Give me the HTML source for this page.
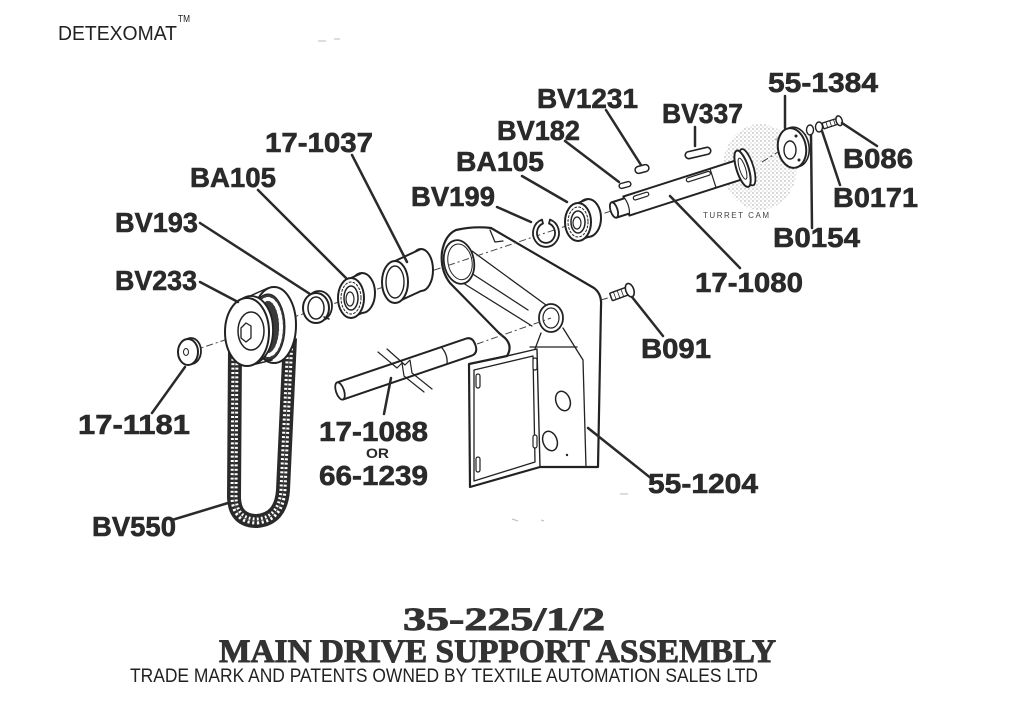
<!DOCTYPE html>
<html><head><meta charset="utf-8">
<style>
html,body{margin:0;padding:0;background:#fff;}
svg{display:block;}
.l{font-family:"Liberation Sans",Arial,sans-serif;font-weight:bold;font-size:28px;fill:#2a2a2a;stroke:#2a2a2a;stroke-width:0.6;}
.t{font-family:"Liberation Serif","Times New Roman",serif;font-weight:bold;font-size:33px;fill:#333;stroke:#333;stroke-width:0.9;}
</style></head><body>
<svg width="1024" height="724" viewBox="0 0 1024 724" xmlns="http://www.w3.org/2000/svg">
<defs>
<pattern id="stip" width="4" height="4" patternUnits="userSpaceOnUse">
<circle cx="1" cy="1" r="0.7" fill="#8a8a8a"/><circle cx="3" cy="3" r="0.6" fill="#a8a8a8"/>
</pattern>
</defs>
<rect width="1024" height="724" fill="#fff"/>

<!-- header -->
<text x="58" y="40" font-family="Liberation Sans, Arial, sans-serif" font-size="20" fill="#222" textLength="119" lengthAdjust="spacingAndGlyphs">DETEXOMAT</text>
<text x="178" y="22" font-family="Liberation Sans, Arial, sans-serif" font-size="10" fill="#222" textLength="12" lengthAdjust="spacingAndGlyphs">TM</text>

<!-- turret cam stipple -->
<ellipse cx="760" cy="167" rx="37" ry="43" fill="url(#stip)" opacity="0.8"/>
<path d="M775,140 A13,13 0 0,1 792,162" fill="none" stroke="#999" stroke-width="1"/>
<text x="703" y="218" font-family="Liberation Sans, Arial, sans-serif" font-size="8" fill="#444" textLength="66" lengthAdjust="spacing">TURRET CAM</text>

<g stroke="#222" fill="#fff" stroke-linejoin="round" stroke-linecap="round">
<!-- Bracket 55-1204 -->
<path stroke-width="2.2" d="M456,230 Q474,226 491,228 L594,288 Q602,294 601,306 L598,467 L540,467 L470,487 L469,364 L507,356 Q513,346 505,338 L499,333 L450,283 Q440,270 442,252 Q445,235 456,230 Z"/>
<path fill="none" stroke-width="1.4" d="M507,356 L537,349 L540,467"/>
<path fill="none" stroke-width="1.3" d="M474,370 L533,356 L535,462 L474,481 Z"/>
<path fill="none" stroke-width="1.3" d="M472,251 L546,305 M463,283 L532,326 M468,271 L528,310 M490,230 L495,242 L503,241 M563,328 L583,360 L586,467 M530,347 L577,347 M541,333 L535,349"/>
<ellipse cx="459" cy="262" rx="15" ry="22" stroke-width="1.8" transform="rotate(-10 459 262)"/>
<ellipse cx="460" cy="262" rx="12" ry="18" fill="none" stroke-width="1" transform="rotate(-10 459 262)"/>
<ellipse cx="551" cy="318" rx="12" ry="14" stroke-width="1.8"/>
<ellipse cx="551" cy="318" rx="8" ry="10" stroke-width="1.2"/>
<rect x="476" y="374" width="4" height="14" rx="2" stroke-width="1.2"/>
<rect x="476" y="457" width="4" height="15" rx="2" stroke-width="1.2"/>
<rect x="533" y="358" width="4" height="12" rx="2" stroke-width="1.2"/>
<rect x="533" y="435" width="4" height="13" rx="2" stroke-width="1.2"/>
<ellipse cx="563" cy="401" rx="7" ry="10" stroke-width="1.5" transform="rotate(-20 563 401)"/>
<ellipse cx="550" cy="441" rx="7" ry="10" stroke-width="1.5" transform="rotate(-20 550 441)"/>
<circle cx="567" cy="455" r="1.2" fill="#222" stroke="none"/>
</g>

<!-- axis lines -->
<g stroke="#444" stroke-width="1" fill="none" stroke-dasharray="7 3 2 3">
<path d="M192,351 L614,210"/>
<path d="M477,344 L551,318"/>
<path d="M601,300 L611,297"/>
<path d="M762,162 L810,132"/>
</g>

<!-- belt BV550 -->
<path d="M235,350 L234,498 Q235,521 257,521 Q281,519 283,490 L290,338" fill="none" stroke="#2a2a2a" stroke-width="14"/>
<path d="M235,350 L234,498 Q235,521 257,521 Q281,519 283,490 L290,338" fill="none" stroke="#fff" stroke-width="7" stroke-dasharray="2 2.4"/>
<path d="M235,350 L234,498 Q235,521 257,521 Q281,519 283,490 L290,338" fill="none" stroke="#444" stroke-width="1"/>

<g stroke="#222" fill="#fff" stroke-linejoin="round" stroke-linecap="round">
<!-- pulley BV233 -->
<ellipse cx="274" cy="325" rx="22" ry="38" stroke-width="2"/>
<ellipse cx="268" cy="327" rx="17" ry="33" fill="#3a3a3a" stroke-width="1"/>
<ellipse cx="268" cy="327" rx="13" ry="28" fill="none" stroke="#fff" stroke-width="4" stroke-dasharray="2 2.5"/>
<path d="M250,296 L268,288 M252,365 L272,360" fill="none" stroke-width="1.5"/>
<ellipse cx="251" cy="330" rx="22" ry="34" stroke-width="1.8"/>
<ellipse cx="247" cy="332" rx="22" ry="34" stroke-width="2"/>
<ellipse cx="251" cy="331" rx="13" ry="19" stroke-width="1.5"/>
<polygon points="241,328 246,323 251,326 251,338 246,342 241,338" stroke-width="1.3"/>

<!-- washer 17-1181 -->
<ellipse cx="191" cy="351" rx="10" ry="13" stroke-width="1.8"/>
<ellipse cx="188" cy="352" rx="10" ry="13" stroke-width="2"/>
<ellipse cx="186" cy="352" rx="2.5" ry="3.5" stroke-width="1"/>

<!-- BV193 ring -->
<ellipse cx="319" cy="306" rx="13" ry="15" stroke-width="1.8"/>
<ellipse cx="316" cy="308" rx="13" ry="15" stroke-width="2"/>
<ellipse cx="316" cy="308" rx="8" ry="11" stroke-width="1.5"/>
<path d="M324,317 L329,319" fill="none" stroke-width="1.5"/>

<!-- BA105 left -->
<ellipse cx="362" cy="293" rx="13" ry="20" stroke-width="2"/>
<polygon points="351,278 362,273 362,313 351,318" stroke="none"/>
<path d="M351,278 L362,273 M351,318 L362,313" fill="none" stroke-width="1.8"/>
<ellipse cx="351" cy="298" rx="13" ry="20" stroke-width="2"/>
<ellipse cx="351" cy="298" rx="10" ry="16" fill="none" stroke-width="1" stroke-dasharray="2 2"/>
<ellipse cx="351" cy="298" rx="7" ry="12" stroke-width="1.5"/>
<ellipse cx="350" cy="299" rx="4" ry="7" stroke-width="1.2"/>

<!-- sleeve 17-1037 -->
<ellipse cx="421" cy="270" rx="12" ry="21" stroke-width="2"/>
<polygon points="395,261 421,249 421,291 395,303" stroke="none"/>
<path d="M395,261 L421,249 M395,303 L421,291" fill="none" stroke-width="2"/>
<ellipse cx="395" cy="282" rx="13" ry="21" stroke-width="2"/>
<ellipse cx="395" cy="282" rx="9" ry="16" stroke-width="1.4"/>

<!-- BV199 circlip -->
<g transform="translate(546,233)">
<path d="M-4,-13.4 A13,14 0 1,0 4,-13.4 L3,-9.5 A9,10 0 1,1 -3,-9.5 Z" stroke-width="1.8"/>
</g>

<!-- BA105 right -->
<ellipse cx="588" cy="218" rx="13" ry="19" stroke-width="2"/>
<polygon points="578,203 588,199 588,237 578,241" stroke="none"/>
<path d="M578,203 L588,199 M578,241 L588,237" fill="none" stroke-width="1.8"/>
<ellipse cx="578" cy="222" rx="13" ry="19" stroke-width="2"/>
<ellipse cx="578" cy="222" rx="10" ry="15" fill="none" stroke-width="1" stroke-dasharray="2 2"/>
<ellipse cx="578" cy="222" rx="7" ry="11" stroke-width="1.5"/>
<ellipse cx="577" cy="223" rx="4" ry="6" stroke-width="1.2"/>

<!-- shaft 17-1080 -->
<g transform="translate(614,210) rotate(-17.8)">
<ellipse cx="140" cy="0" rx="6" ry="19" stroke-width="1.8"/>
<path d="M0,-8 L13,-8 L13,-10 L134,-10 L134,10 L13,10 L13,8 L0,8 Z" stroke-width="2"/>
<ellipse cx="0" cy="0" rx="3.5" ry="8" stroke-width="1.8"/>
<path d="M13,-10 Q17,0 13,10" fill="none" stroke-width="1.2"/>
<rect x="22" y="-7" width="16" height="4" rx="2" stroke-width="1.2"/>
<rect x="78" y="-8" width="25" height="4" rx="2" stroke-width="1.2"/>
<line x1="104" y1="-10" x2="104" y2="10" stroke-width="1.2"/>
<ellipse cx="135" cy="0" rx="6" ry="19" stroke-width="2"/>
<ellipse cx="135" cy="0" rx="3" ry="11" fill="none" stroke-width="1"/>
</g>

<!-- keys -->
<rect x="-6" y="-2.5" width="12" height="5" rx="2.5" stroke-width="1.4" transform="translate(625,185) rotate(-15)"/>
<rect x="-7" y="-3.5" width="14" height="7" rx="3.5" stroke-width="1.5" transform="translate(642,169) rotate(-15)"/>
<rect x="-13" y="-3.5" width="26" height="7" rx="3.5" stroke-width="1.6" transform="translate(698,153) rotate(-13)"/>

<!-- 55-1384 washer and small parts -->
<ellipse cx="795" cy="147" rx="14" ry="20" stroke-width="1.6" transform="rotate(-10 795 147)"/>
<ellipse cx="792" cy="148" rx="14" ry="20" stroke-width="2" transform="rotate(-10 792 148)"/>
<ellipse cx="790" cy="150" rx="6" ry="9" stroke-width="1.4"/>
<circle cx="796" cy="136" r="1" fill="#222"/><circle cx="799" cy="160" r="1" fill="#222"/>
<ellipse cx="810" cy="130" rx="3.5" ry="5" stroke-width="1.4"/>
<ellipse cx="819" cy="127" rx="3.5" ry="5" stroke-width="1.4"/>
<g transform="translate(823,126) rotate(-18)">
<rect x="0" y="-3" width="16" height="6" stroke-width="1.3"/>
<path d="M4,-3 L4,3 M8,-3 L8,3 M12,-3 L12,3" stroke-width="0.8" fill="none"/>
<ellipse cx="17" cy="0" rx="3" ry="5" stroke-width="1.5"/>
</g>

<!-- B091 screw -->
<g transform="translate(611,297) rotate(-20)">
<rect x="0" y="-4" width="18" height="8" rx="1" stroke-width="1.5"/>
<path d="M4,-4 L4,4 M8,-4 L8,4 M12,-4 L12,4" stroke-width="0.8" fill="none"/>
<ellipse cx="20" cy="0" rx="4" ry="7" stroke-width="1.6"/>
</g>

<!-- shaft 17-1088 -->
<g transform="translate(340,391) rotate(-18.8)">
<path d="M0,-9 L136,-9 Q143,-9 143,0 Q143,9 136,9 L0,9 Z" stroke-width="2"/>
<ellipse cx="0" cy="0" rx="4" ry="9" stroke-width="1.8"/>
<path d="M110,-9 Q114,0 110,9" fill="none" stroke-width="1.3"/>
</g>
<path d="M378,352 L397,368 L402,363 L404,376 L424,392" fill="none" stroke-width="1.2"/>
<path d="M387,349 L405,365 L410,360 L412,373 L432,389" fill="none" stroke-width="1.2"/>
</g>

<!-- leader lines -->
<g stroke="#2a2a2a" stroke-width="2.5" stroke-linecap="round" fill="none">
<path d="M352,155 L407,262"/>
<path d="M258,190 L346,278"/>
<path d="M200,223 L310,294"/>
<path d="M200,282 L238,302"/>
<path d="M152,413 L185,367"/>
<path d="M172,520 L228,503"/>
<path d="M384,414 L391,378"/>
<path d="M588,428 L652,479"/>
<path d="M632,297 L663,336"/>
<path d="M670,196 L740,268"/>
<path d="M811,135 L812,228"/>
<path d="M822,131 L840,185"/>
<path d="M842,123 L877,146"/>
<path d="M785,96 L785,128"/>
<path d="M695,127 L695,146"/>
<path d="M606,110 L641,165"/>
<path d="M565,141 L619,182"/>
<path d="M522,176 L567,202"/>
<path d="M497,207 L531,222"/>
</g>

<!-- labels -->
<text class="l" x="265" y="152" textLength="108" lengthAdjust="spacingAndGlyphs">17-1037</text>
<text class="l" x="190" y="187" textLength="86" lengthAdjust="spacingAndGlyphs">BA105</text>
<text class="l" x="115" y="232" textLength="83" lengthAdjust="spacingAndGlyphs">BV193</text>
<text class="l" x="115" y="290" textLength="82" lengthAdjust="spacingAndGlyphs">BV233</text>
<text class="l" x="78" y="434" textLength="112" lengthAdjust="spacingAndGlyphs">17-1181</text>
<text class="l" x="92" y="536" textLength="84" lengthAdjust="spacingAndGlyphs">BV550</text>
<text class="l" x="319" y="441" textLength="109" lengthAdjust="spacingAndGlyphs">17-1088</text>
<text x="366" y="458" font-family="Liberation Sans, Arial, sans-serif" font-weight="bold" font-size="14" fill="#2a2a2a" textLength="23" lengthAdjust="spacingAndGlyphs">OR</text>
<text class="l" x="319" y="485" textLength="109" lengthAdjust="spacingAndGlyphs">66-1239</text>
<text class="l" x="648" y="493" textLength="110" lengthAdjust="spacingAndGlyphs">55-1204</text>
<text class="l" x="641" y="358" textLength="70" lengthAdjust="spacingAndGlyphs">B091</text>
<text class="l" x="695" y="292" textLength="108" lengthAdjust="spacingAndGlyphs">17-1080</text>
<text class="l" x="773" y="247" textLength="87" lengthAdjust="spacingAndGlyphs">B0154</text>
<text class="l" x="833" y="207" textLength="85" lengthAdjust="spacingAndGlyphs">B0171</text>
<text class="l" x="843" y="168" textLength="70" lengthAdjust="spacingAndGlyphs">B086</text>
<text class="l" x="768" y="92" textLength="110" lengthAdjust="spacingAndGlyphs">55-1384</text>
<text class="l" x="662" y="123" textLength="81" lengthAdjust="spacingAndGlyphs">BV337</text>
<text class="l" x="537" y="108" textLength="101" lengthAdjust="spacingAndGlyphs">BV1231</text>
<text class="l" x="497" y="140" textLength="83" lengthAdjust="spacingAndGlyphs">BV182</text>
<text class="l" x="456" y="171" textLength="88" lengthAdjust="spacingAndGlyphs">BA105</text>
<text class="l" x="411" y="206" textLength="84" lengthAdjust="spacingAndGlyphs">BV199</text>

<!-- title -->
<text class="t" x="403" y="630" textLength="202" lengthAdjust="spacingAndGlyphs">35-225/1/2</text>
<text class="t" x="219" y="662" textLength="557" lengthAdjust="spacingAndGlyphs">MAIN DRIVE SUPPORT ASSEMBLY</text>
<text x="130" y="682" font-family="Liberation Sans, Arial, sans-serif" font-size="19" fill="#222" textLength="628" lengthAdjust="spacingAndGlyphs">TRADE MARK AND PATENTS OWNED BY TEXTILE AUTOMATION SALES LTD</text>

<!-- faint scan marks -->
<g stroke="#bbb" stroke-width="1">
<path d="M318,41 L326,41 M334,39 L340,39 M512,519 L518,521 M541,520 L544,521 M620,494 L628,494"/>
</g>
</svg>
</body></html>
